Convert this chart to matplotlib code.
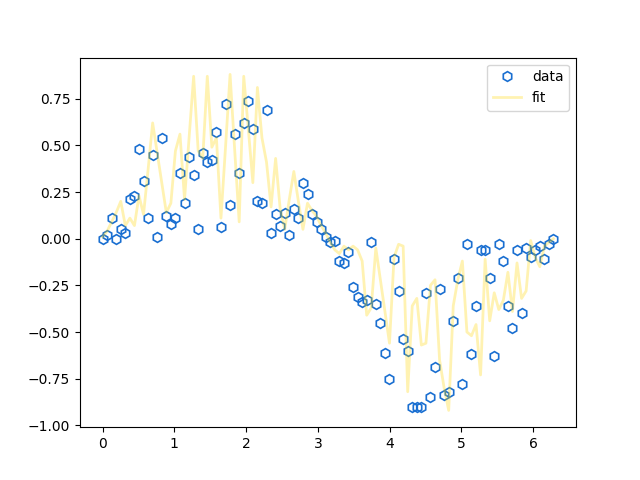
import numpy as np
import matplotlib
matplotlib.use("Agg")
import matplotlib.pyplot as plt

# sample positions over one period
x = np.linspace(0, 2 * np.pi, 100)

data_y = [
    0.00, 0.02, 0.11, 0.00, 0.05, 0.03, 0.21, 0.23, 0.48, 0.31,
    0.11, 0.45, 0.01, 0.54, 0.12, 0.08, 0.11, 0.35, 0.19, 0.44,
    0.34, 0.05, 0.46, 0.41, 0.42, 0.57, 0.06, 0.72, 0.18, 0.56,
    0.35, 0.62, 0.74, 0.59, 0.20, 0.19, 0.69, 0.03, 0.13, 0.07,
    0.14, 0.02, 0.16, 0.11, 0.30, 0.24, 0.13, 0.09, 0.05, 0.01,
    -0.02, -0.01, -0.12, -0.13, -0.07, -0.26, -0.31, -0.34, -0.33, -0.02,
    -0.35, -0.45, -0.61, -0.75, -0.11, -0.28, -0.54, -0.60, -0.90, -0.90,
    -0.90, -0.29, -0.85, -0.69, -0.27, -0.84, -0.82, -0.44, -0.21, -0.78,
    -0.03, -0.62, -0.36, -0.06, -0.06, -0.21, -0.63, -0.03, -0.12, -0.36,
    -0.48, -0.06, -0.40, -0.05, -0.10, -0.06, -0.04, -0.11, -0.03, 0.00,
]

fit_y = [
    0.01, 0.04, 0.09, 0.14, 0.20, 0.07, 0.11, 0.07, 0.23, 0.13,
    0.37, 0.62, 0.46, 0.30, 0.14, 0.19, 0.47, 0.56, 0.21, 0.54,
    0.87, 0.47, 0.43, 0.87, 0.49, 0.54, 0.11, 0.49, 0.88, 0.48,
    0.09, 0.87, 0.59, 0.30, 0.81, 0.54, 0.41, 0.17, 0.43, 0.16,
    0.05, 0.21, 0.36, 0.20, 0.05, 0.19, 0.15, 0.12, 0.07, 0.03,
    -0.02, -0.06, -0.08, -0.04, -0.06, -0.04, -0.06, -0.12, -0.41, -0.37,
    -0.05, -0.22, -0.39, -0.56, -0.10, -0.03, -0.04, -0.82, -0.36, -0.32,
    -0.57, -0.56, -0.25, -0.22, -0.65, -0.80, -0.92, -0.36, -0.22, -0.12,
    -0.50, -0.52, -0.46, -0.73, -0.11, -0.44, -0.29, -0.38, -0.33, -0.18,
    -0.39, -0.13, -0.32, -0.28, -0.01, -0.10, -0.15, -0.04, -0.02, 0.00,
]

fig, ax = plt.subplots(figsize=(6.4, 4.8), dpi=100)

ax.plot(x, data_y, "h", mfc="none", mec="#1a6fd1", mew=1.2, ms=7, label="data")
ax.plot(x, fit_y, color="gold", alpha=0.3, lw=2, label="fit")
ax.legend()

plt.savefig("out.png")
